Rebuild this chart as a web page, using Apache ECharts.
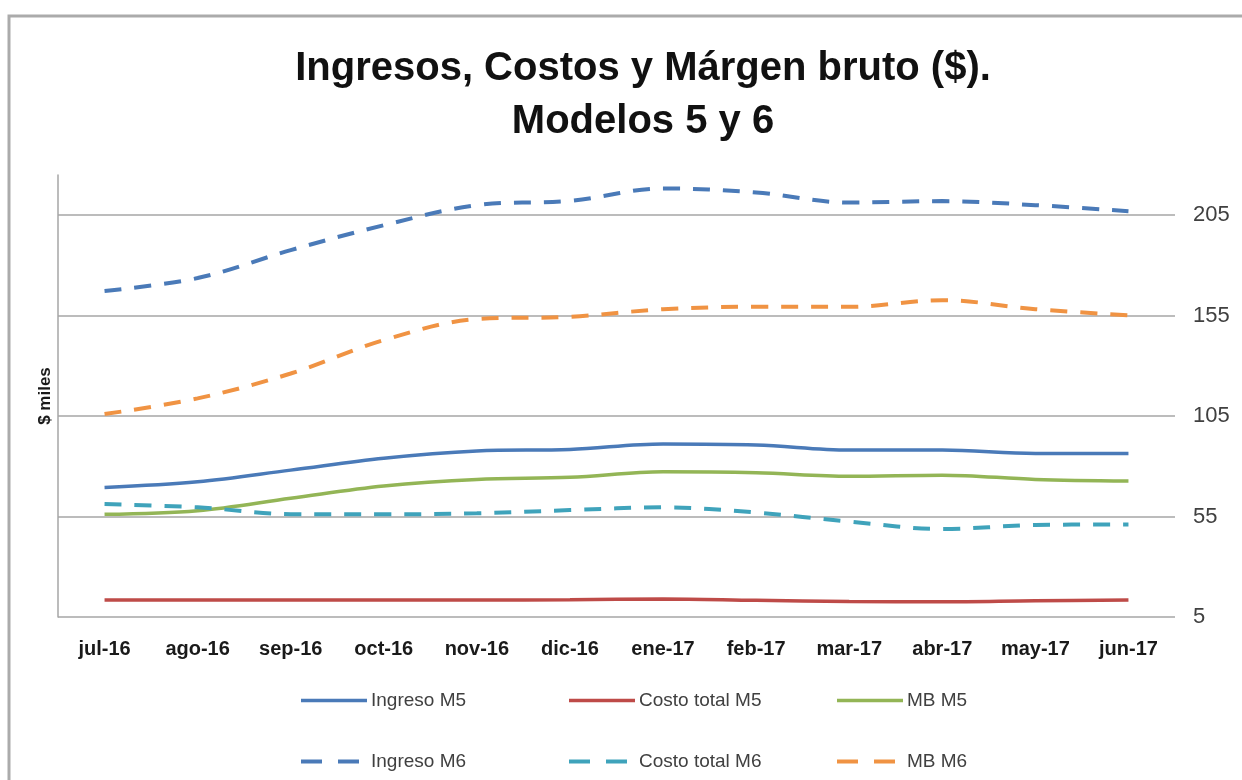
<!DOCTYPE html>
<html>
<head>
<meta charset="utf-8">
<script src="https://cdn.jsdelivr.net/npm/echarts@6/dist/echarts.min.js"></script>
<style>
  html, body { margin: 0; padding: 0; background: #fff; }
  #chart { width: 1242px; height: 780px; }
</style>
</head>
<body>
<div id="chart"></div>
<script>
const months = ['jul-16', 'ago-16', 'sep-16', 'oct-16', 'nov-16', 'dic-16', 'ene-17', 'feb-17', 'mar-17', 'abr-17', 'may-17', 'jun-17']

// $ miles
const ingresoM5 = [69.5, 72.3, 78.1, 84.0, 87.6, 88.4, 91.1, 90.6, 88.1, 88.1, 86.4, 86.4]
const costoM5 = [13.5, 13.5, 13.5, 13.5, 13.5, 13.6, 14.0, 13.3, 12.7, 12.6, 13.1, 13.4]
const mbM5 = [56.1, 57.9, 64.1, 70.2, 73.5, 74.5, 77.3, 76.8, 75.1, 75.6, 73.5, 72.7]
const ingresoM6 = [167.3, 173.7, 187.6, 200.0, 210.0, 212.1, 218.3, 216.3, 211.3, 212.0, 210.0, 207.0]
const costoM6 = [61.2, 59.6, 56.2, 56.1, 56.6, 58.2, 59.6, 57.0, 52.5, 48.8, 50.8, 51.1]
const mbM6 = [106.0, 113.8, 126.2, 142.8, 153.3, 154.4, 158.2, 159.4, 159.4, 162.7, 158.2, 155.2]

const font = '"Liberation Sans", Arial, sans-serif'
const dash = [17, 13]

function serie(name, data, color, dashed) {
  return {
    name: name,
    type: 'line',
    data: data,
    smooth: 0.35,
    symbol: 'none',
    color: color,
    lineStyle: { color: color, width: dashed ? 4 : 3.5, type: dashed ? dash : 'solid' }
  }
}

// una columna de la leyenda: serie sólida arriba, discontinua abajo
function legendCol(left, solid, dashed) {
  return {
    orient: 'vertical',
    left: left,
    top: 686,
    itemGap: 42,
    itemWidth: 66,
    itemHeight: 20,
    itemStyle: { opacity: 0 },
    data: [
      { name: solid, lineStyle: { width: 3.5 } },
      { name: dashed, lineStyle: { width: 4, type: [21, 16] } }
    ],
    textStyle: { fontFamily: font, fontSize: 19, color: '#404040', padding: [0, 0, 0, -1] }
  }
}

const chart = echarts.init(document.getElementById('chart'))
chart.setOption({
  backgroundColor: '#fff',
  animation: false,
  title: {
    text: 'Ingresos, Costos y Márgen bruto ($).\nModelos 5 y 6',
    left: 638,
    textAlign: 'center',
    top: 37,
    textStyle: { fontFamily: font, fontSize: 40, fontWeight: 'bold', color: '#111', lineHeight: 53 }
  },
  graphic: [{
    type: 'polyline',
    shape: { points: [[9, 790], [9, 16], [1250, 16]] },
    style: { stroke: '#ababab', lineWidth: 3, fill: null }
  }],
  legend: [
    legendCol(294, 'Ingreso M5', 'Ingreso M6'),
    legendCol(562, 'Costo total M5', 'Costo total M6'),
    legendCol(830, 'MB M5', 'MB M6')
  ],
  grid: { left: 58, right: 67, top: 175, bottom: 163 },
  xAxis: {
    type: 'category',
    data: months,
    axisLine: { show: false },
    axisTick: { show: false },
    axisLabel: { interval: 0, fontFamily: font, fontSize: 20, fontWeight: 'bold', color: '#1a1a1a', margin: 22 }
  },
  yAxis: [{
    type: 'value',
    position: 'right',
    min: 5,
    max: 225,
    interval: 50,
    axisLine: { show: false },
    axisTick: { show: false },
    axisLabel: { fontFamily: font, fontSize: 22, color: '#404040', margin: 18, showMaxLabel: false },
    splitLine: { show: true, showMaxLine: false, lineStyle: { color: '#a6a6a6', width: 1.5 } }
  }, {
    type: 'value',
    position: 'left',
    min: 5,
    max: 225,
    interval: 50,
    name: '$ miles',
    nameLocation: 'middle',
    nameGap: 4,
    nameTextStyle: { fontFamily: font, fontSize: 17, fontWeight: 'bold', color: '#1a1a1a' },
    axisLine: { show: true, lineStyle: { color: '#a6a6a6', width: 1.5 } },
    axisTick: { show: false },
    axisLabel: { show: false },
    splitLine: { show: false }
  }],
  series: [
    serie('Ingreso M5', ingresoM5, '#4a7ab8', false),
    serie('Costo total M5', costoM5, '#be4b48', false),
    serie('MB M5', mbM5, '#93b556', false),
    serie('Ingreso M6', ingresoM6, '#4a7ab8', true),
    serie('Costo total M6', costoM6, '#3fa3bb', true),
    serie('MB M6', mbM6, '#f09343', true)
  ]
})
</script>
</body>
</html>
